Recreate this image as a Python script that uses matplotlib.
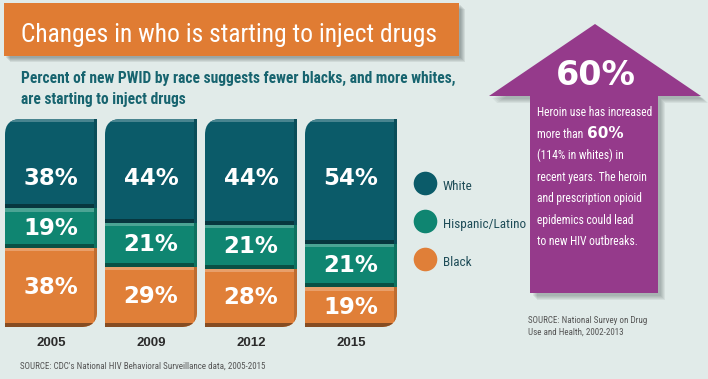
import numpy as np
import matplotlib
matplotlib.use('Agg')
import matplotlib.pyplot as plt
from matplotlib import font_manager
from matplotlib.patches import Polygon, Rectangle, PathPatch
from matplotlib.path import Path
from matplotlib.lines import Line2D
import matplotlib.colors as mcolors


# data (percent of new PWID by race)
years = ['2005', '2009', '2012', '2015']
white = [38, 44, 44, 54]
hispanic = [19, 21, 21, 21]
black = [38, 29, 28, 19]
groups = ['White', 'Hispanic/Latino', 'Black']

title = 'Changes in who is starting to inject drugs'
subtitle = ['Percent of new PWID by race suggests fewer blacks, and more whites,',
            'are starting to inject drugs']
callout_big = '60%'
callout_lines = ['Heroin use has increased',
                 'more than ',
                 '(114% in whites) in',
                 'recent years. The heroin',
                 'and prescription opioid',
                 'epidemics could lead',
                 'to new HIV outbreaks.']
source_left = "SOURCE: CDC's National HIV Behavioral Surveillance data, 2005-2015"
source_right = ['SOURCE: National Survey on Drug', 'Use and Health, 2002-2013']

BG = '#e1ebe9'
C_WHITE = '#0b5b69'
C_HISP = '#0f8571'
C_BLACK = '#e07f38'
ORANGE = '#e07c33'
PURPLE = '#953a8b'
TEAL_TXT = '#17646f'

# pick a narrow font if there is one
names = {f.name for f in font_manager.fontManager.ttflist}
NARROW = 'DejaVu Sans'
for n in ['Liberation Sans Narrow', 'Roboto Condensed', 'Open Sans Condensed', 'Arial Narrow']:
    if n in names:
        NARROW = n
        break

W, H = 708, 379
fig = plt.figure(figsize=(W / 100, H / 100), dpi=100, facecolor=BG)
renderer = fig.canvas.get_renderer()


def fx(x):
    return x / W


def fy(y):
    return 1 - y / H


def fit(t, width):
    # shrink/grow fontsize so the text spans the given pixel width
    w = t.get_window_extent(renderer).width
    t.set_fontsize(t.get_fontsize() * width / w)
    return t


def shade(c, f):
    r, g, b = mcolors.to_rgb(c)
    if f < 1:
        return (r * f, g * f, b * f)
    return (r + (1 - r) * (f - 1), g + (1 - g) * (f - 1), b + (1 - b) * (f - 1))


# title banner with soft shadow
for k in range(5):
    fig.patches.append(Rectangle((fx(4 + 2 + k), fy(56 + 2 + k)), 455 / W, 53 / H,
                                 transform=fig.transFigure, color='#3d4a4a',
                                 alpha=0.10, lw=0, zorder=1))
fig.patches.append(Rectangle((fx(4), fy(56)), 455 / W, 53 / H,
                             transform=fig.transFigure, color=ORANGE, lw=0, zorder=2))
t = fig.text(fx(21), fy(42), title, color='white', fontsize=28, family=NARROW,
             fontstretch='condensed', va='baseline', zorder=3)
fit(t, 416)

s1 = fig.text(fx(21), fy(83), subtitle[0], color=TEAL_TXT, fontsize=12, family=NARROW,
              fontstretch='condensed', fontweight='bold', va='baseline')
fit(s1, 436)
fig.text(fx(21), fy(104), subtitle[1], color=TEAL_TXT, fontsize=s1.get_fontsize(),
         family=NARROW, fontstretch='condensed', fontweight='bold', va='baseline')

# stacked bars
ax = fig.add_axes([fx(5), fy(327), 392 / W, 208 / H])
ax.set_xlim(-0.46, 3.46)
ax.set_ylim(0, 100)
ax.patch.set_visible(False)
for sp in ax.spines.values():
    sp.set_visible(False)
ax.set_yticks([])
x = np.arange(len(years))
ax.set_xticks(x, years)
ax.tick_params(axis='x', length=0, pad=7.5, labelsize=9.5, labelcolor='#2b2b2b')
for lab in ax.get_xticklabels():
    lab.set_fontweight('bold')
    lab.set_family('Liberation Sans')

wid = 0.92
black_a = np.array(black)
hisp_a = np.array(hispanic)
lower = black_a + hisp_a
# white fills the rest of the column, as in the original graphic
segs = [(np.zeros(4), black_a, C_BLACK),
        (black_a, hisp_a, C_HISP),
        (lower, 100 - lower, C_WHITE)]
for bottom, height, col in segs:
    ax.bar(x, height, wid, bottom=bottom, color=col, lw=0)
    ax.bar(x, 2.0, wid, bottom=bottom, color=shade(col, 0.6), lw=0)
    ax.bar(x, 1.6, wid, bottom=bottom + height - 1.6, color=shade(col, 1.25), lw=0)
    ax.bar(x + wid / 2 - 0.015, height, 0.03, bottom=bottom, color=shade(col, 0.85), lw=0)

# rounded top-left and bottom-right corners
rx, ry = 0.16, 7.5
clips = []
for xi in x:
    x0, x1, y0, y1 = xi - wid / 2, xi + wid / 2, 0, 100
    verts = [(x0, y0), (x1 - rx, y0), (x1, y0), (x1, y0 + ry), (x1, y1),
             (x0 + rx, y1), (x0, y1), (x0, y1 - ry), (x0, y0)]
    codes = [Path.MOVETO, Path.LINETO, Path.CURVE3, Path.CURVE3, Path.LINETO,
             Path.LINETO, Path.CURVE3, Path.CURVE3, Path.CLOSEPOLY]
    clips.append(PathPatch(Path(verts, codes), transform=ax.transData))
for cont in ax.containers:
    for i, p in enumerate(cont.patches):
        p.set_clip_path(clips[i])

lbl = dict(ha='center', va='center', color='white', fontsize=16.5,
           fontweight='bold', family='DejaVu Sans')
for i in x:
    ax.text(i, 71.5, f'{white[i]}%', **lbl)
    ax.text(i, black[i] + hispanic[i] / 2, f'{hispanic[i]}%', **lbl)
    ax.text(i, black[i] / 2, f'{black[i]}%', **lbl)

# legend
fs = 9.5
fs_px = fs * 100 / 72
handles = [Line2D([], [], ls='', marker='o', ms=17, color=c, mec='none')
           for c in [C_WHITE, C_HISP, C_BLACK]]
fig.legend(handles, groups, loc='upper left', bbox_to_anchor=(fx(413), fy(176)),
           frameon=False, borderpad=0, borderaxespad=0,
           handlelength=24 / fs_px, handleheight=24 / fs_px,
           labelspacing=19.5 / fs_px, handletextpad=6 / fs_px,
           prop=dict(family=NARROW, stretch='condensed', size=fs), labelcolor='#1f4d58')

fig.text(fx(20), fy(369), source_left, color='#555555', fontsize=6.5, family=NARROW,
         fontstretch='condensed', va='baseline')

# callout arrow
arrow = [(595, 24), (701, 96), (658, 96), (658, 293), (530, 293), (530, 96), (489, 96)]
for k in range(5):
    fig.patches.append(Polygon([(fx(a + 3 + k), fy(b + 3 + k)) for a, b in arrow],
                               transform=fig.transFigure, color='#3d4a4a',
                               alpha=0.08, lw=0, zorder=1))
fig.patches.append(Polygon([(fx(a), fy(b)) for a, b in arrow], transform=fig.transFigure,
                           color=PURPLE, lw=0, zorder=2))
fig.text(fx(596), fy(85), callout_big, color='white', fontsize=24, fontweight='bold',
         family='DejaVu Sans', ha='center', va='baseline', zorder=3)

c0 = fig.text(fx(537), fy(116), callout_lines[0], color='white', fontsize=11,
              family=NARROW, fontstretch='condensed', va='baseline', zorder=3)
fit(c0, 115)
cfs = c0.get_fontsize()
for k, line in enumerate(callout_lines[1:], start=1):
    tt = fig.text(fx(537), fy(116 + 21.5 * k), line, color='white', fontsize=cfs,
                  family=NARROW, fontstretch='condensed', va='baseline', zorder=3)
    if k == 1:
        ext = tt.get_window_extent(renderer)
        fig.text(ext.x1 / W + fx(1), fy(116 + 21.5 * k), callout_big, color='white',
                 fontsize=11, fontweight='bold', family='DejaVu Sans', va='baseline', zorder=3)

for k, line in enumerate(source_right):
    fig.text(fx(528), fy(323 + 11.5 * k), line, color='#555555', fontsize=6.5,
             family=NARROW, fontstretch='condensed', va='baseline')

fig.savefig('out.png', dpi=100, facecolor=BG)
